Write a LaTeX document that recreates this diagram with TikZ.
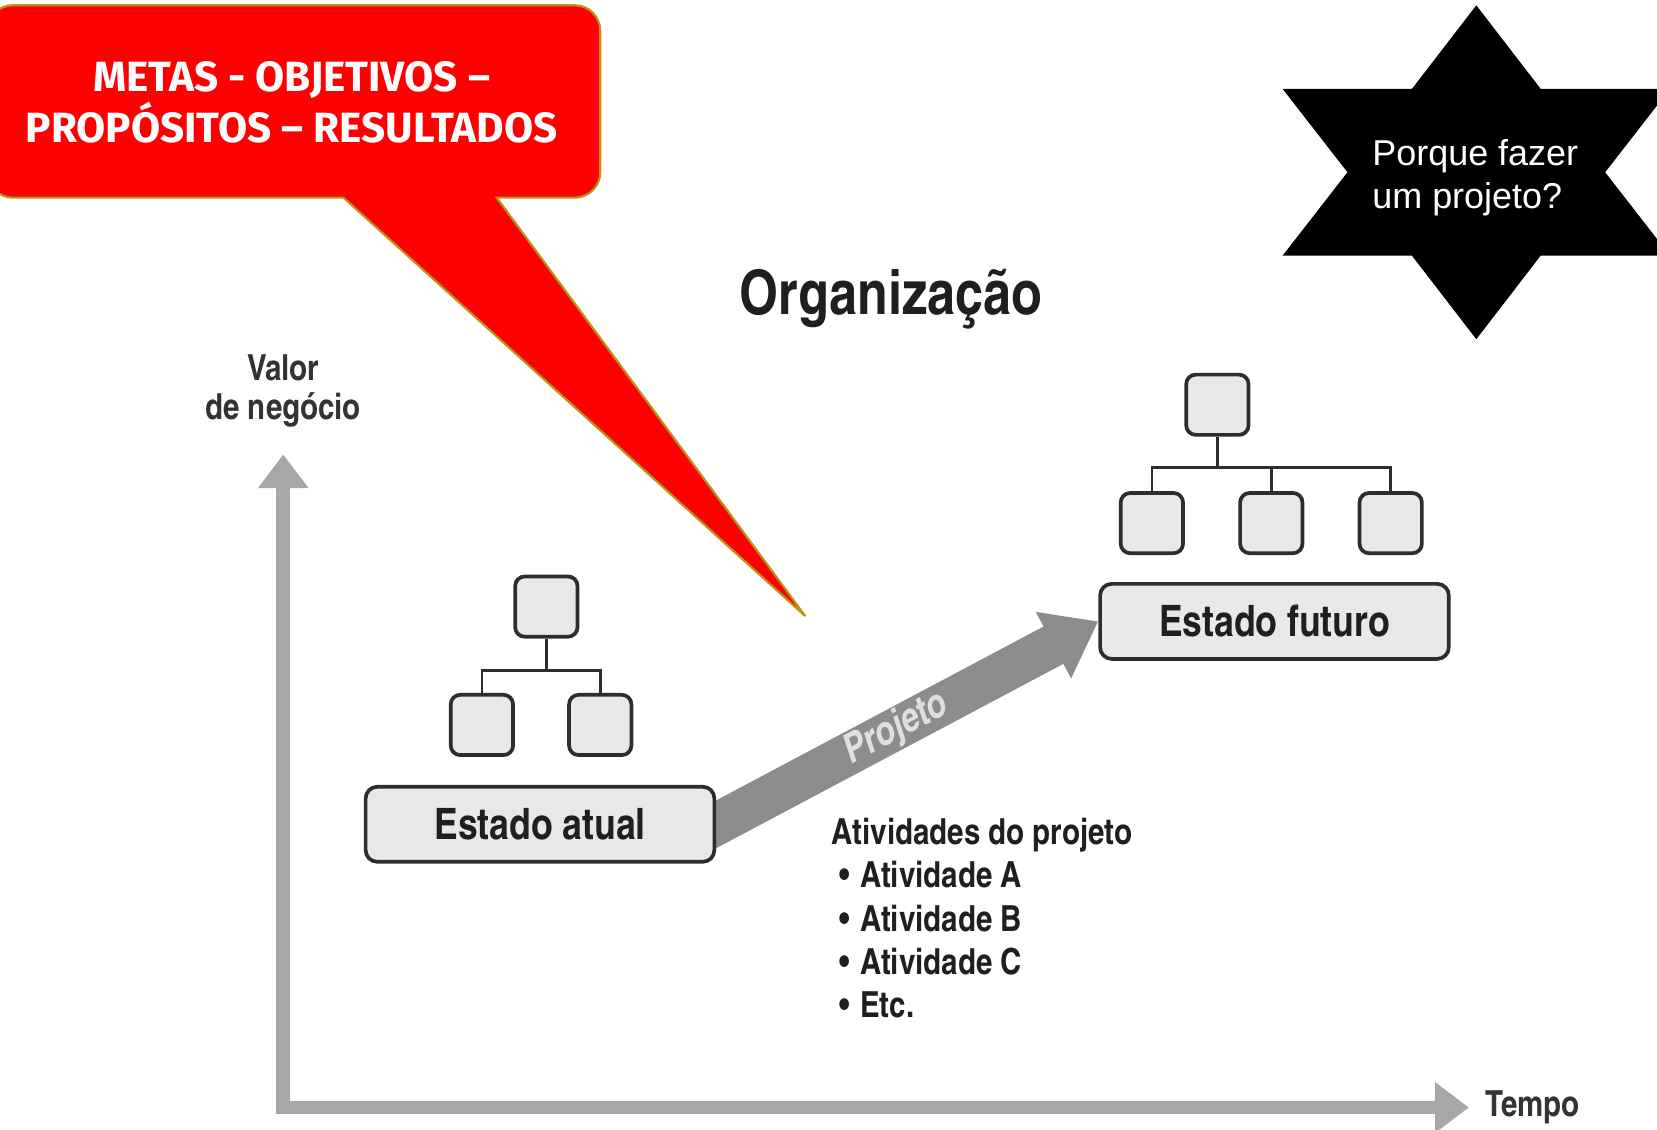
\documentclass[tikz,border=0pt]{standalone}
\usepackage{fontspec}
\setmainfont{Liberation Sans}
\newfontfamily\cond{texgyreheroscn}[Extension=.otf,UprightFont=*-regular,BoldFont=*-bold,ItalicFont=*-italic,BoldItalicFont=*-bolditalic]
\newfontfamily\fira{Fira Sans}
\usetikzlibrary{arrows.meta,calc,backgrounds,positioning}
\definecolor{calloutred}{RGB}{255,0,0}
\definecolor{calloutrim}{RGB}{184,150,20}
\definecolor{axisgray}{RGB}{166,167,169}
\definecolor{arrowgray}{RGB}{139,140,142}
\definecolor{boxfill}{RGB}{232,232,234}
\definecolor{boxline}{RGB}{45,45,45}
\newcommand\task[1]{\hspace*{7pt}\textbullet\hspace{10pt}#1}
\tikzset{
  axistip/.tip={Triangle[length=32pt,width=46pt]},
  axis/.style={draw=axisgray,line width=13pt,axistip-axistip},
  axislabel/.style={font=\cond\bfseries\fontsize{34}{37}\selectfont,text=black!80,align=center},
  unit/.style={draw=boxline,line width=3.5pt,fill=boxfill,rounded corners=9pt,minimum width=59pt,minimum height=57pt},
  state/.style={draw=boxline,line width=3.5pt,fill=boxfill,rounded corners=11pt,minimum width=330pt,minimum height=71pt,font=\cond\bfseries\fontsize{41}{44}\selectfont,text=black!88},
  link/.style={draw=boxline,line width=2.5pt},
  flow/.style={draw=arrowgray,line width=40pt,-{Triangle[length=48pt,width=68pt]}},
  callout/.style={fill=calloutred,draw=calloutrim,line width=2pt},
  goaltext/.style={font=\fira\bfseries\fontsize{40}{48}\selectfont,text=white,align=center}
}
\begin{document}
\begin{tikzpicture}[x=1pt,y=-1pt,line join=miter]
\useasboundingbox (0,0) rectangle (1568,1069);
% callout
\draw[callout] (762,583) -- (325,187) [rounded corners=24pt] -- (-12,187) -- (-12,5) -- (568,5) -- (568,187) [sharp corners] -- (470,187) -- cycle;
\node[goaltext] (goals) at (276,97) {METAS - OBJETIVOS –\\PROPÓSITOS – RESULTADOS};
% star
\fill[black,shift={(1397,163)},xscale=1.34] (90:158) \foreach \a in {120,180,...,420}{ -- (\a:91) -- ({\a+30}:158)} -- cycle;
\node[text=white,align=left,font=\fontsize{34}{41}\selectfont] (why) at (1396,168) {Porque fazer\\um projeto?};
% title
\node[font=\cond\bfseries\fontsize{58}{60}\selectfont,text=black!88] (org) at (843,283) {Organização};
% axes
\coordinate (origin) at (268,1048);
\coordinate (ytop) at (268,430);
\coordinate (xend) at (1390,1048);
\draw[axis] (ytop) -- (origin) -- (xend);
\node[axislabel,above=22pt of ytop] (value) {Valor\\de negócio};
\node[axislabel,right=12pt of xend] (time) {Tempo};
% estado atual
\node[unit] (nowtop) at (517,574) {};
\node[unit] (nowL) at (456,686) {};
\node[unit] (nowR) at (568,686) {};
\node[state] (now) at (511,780) {Estado atual};
\draw[link] (nowtop.south) -- ++(0,30) coordinate (nowbus) (nowL.north) |- (nowbus) -| (nowR.north);
% estado futuro
\node[unit] (futtop) at (1152,383) {};
\node[unit] (futA) at (1090,495) {};
\node[unit] (futB) at (1203,495) {};
\node[unit] (futC) at (1316,495) {};
\node[state] (future) at (1206,588) {Estado futuro};
\draw[link] (futtop.south) -- ++(0,29) coordinate (futbus) (futA.north) |- (futbus) -| (futC.north) (futB.north) -- (futB.north |- futbus);
% projeto
\begin{scope}[on background layer]
\draw[flow] ($(future.west)!1.06!(now.east)$) -- node[pos=.5,sloped,text=gray!25,font=\cond\bfseries\itshape\fontsize{38}{38}\selectfont] (projlabel) {Projeto} (future.west);
\end{scope}
% atividades
\node[anchor=north west,inner sep=0pt,align=left,text=black!88,font=\cond\bfseries\fontsize{34}{41}\selectfont] (tasks) at (787,774) {Atividades do projeto\\\task{Atividade A}\\\task{Atividade B}\\\task{Atividade C}\\\task{Etc.}};
\end{tikzpicture}
\end{document}
